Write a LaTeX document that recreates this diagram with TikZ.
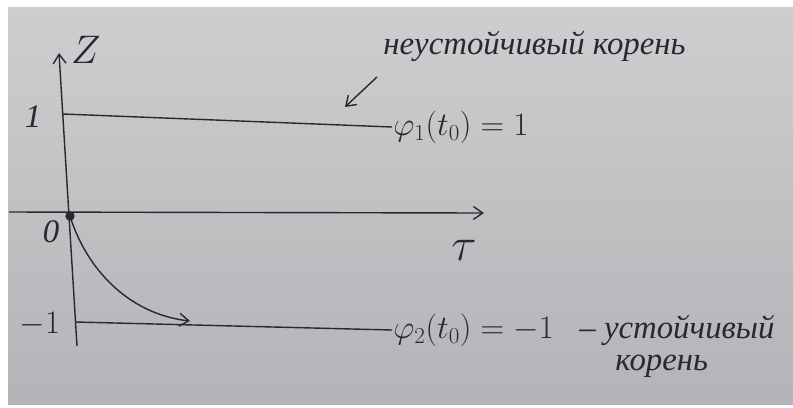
\documentclass[tikz,border=0pt]{standalone}
\usepackage{fix-cm}
\usepackage{fontspec}
\setmainfont{Liberation Serif}
\usetikzlibrary{arrows.meta, positioning}
\definecolor{papertop}{RGB}{206,206,208}
\definecolor{paperbot}{RGB}{180,180,184}
\definecolor{ink}{RGB}{40,40,46}

\begin{document}
\begin{tikzpicture}[x=0.03cm, y=-0.03cm, font=\fontsize{28}{33}\selectfont\itshape,
  pen/.style={draw=ink, line width=1.2pt},
  penarrow/.style={pen, -{Straight Barb[length=8pt, width=11pt]}},
  lbl/.style={text=ink, inner sep=1pt}]

% paper and margins
\useasboundingbox (0,0) rectangle (793,407);
\fill[white] (0,0) rectangle (793,407);
\shade[top color=papertop, bottom color=paperbot] (8,7) rectangle (793,404);

% axes
\coordinate (zbot) at (77,346);
\coordinate (ztop) at (59,53);
\coordinate (tleft) at (9,212);
\coordinate (tright) at (484,213);
\draw[penarrow] (zbot) -- (ztop);
\draw[penarrow] (tleft) -- (tright);
\node[lbl, font=\fontsize{34}{40}\selectfont] (zlab) at (86,50) {$Z$};
\node[lbl, font=\fontsize{40}{46}\selectfont] (taulab) at (464,250) {$\tau$};

% origin
\node[circle, fill=ink, inner sep=0pt, minimum size=8pt] (orig) at (70,216) {};
\node[lbl] (origlab) at (51,232) {0};

% levels +1 and -1
\coordinate (one) at (63,114);
\coordinate (mone) at (76,322);
\node[lbl] (onelab) at (33,117) {1};
\node[lbl] (monelab) at (40,324) {$-1$};
\node[lbl, anchor=west] (phione) at (392,127) {$\varphi_1(t_0)=1$};
\node[lbl, anchor=west] (phitwo) at (392,330) {$\varphi_2(t_0)=-1$};
\draw[pen] (one) -- (phione.west);
\draw[pen] (mone) -- (phitwo.west);

% trajectory from the origin
\coordinate (ctip) at (190,321);
\draw[penarrow] (orig.center) .. controls (86,268) and (128,314) .. (ctip);

% root labels
\node[lbl, anchor=west] (unstable) at (382,46) {неустойчивый корень};
\coordinate (unstart) at (377,77);
\coordinate (untip) at (345,107);
\draw[penarrow] (unstart) -- (untip);
\node[lbl, anchor=west] (stable) at (578,330) {-- устойчивый};
\node[lbl, anchor=west] (stabletwo) at (614,366) {корень};

\end{tikzpicture}
\end{document}
